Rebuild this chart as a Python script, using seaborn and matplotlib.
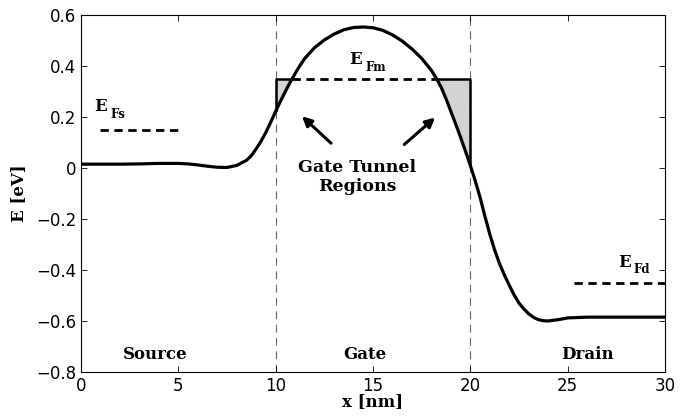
import numpy as np
import pandas as pd
import seaborn as sns
import matplotlib.pyplot as plt

# conduction band profile along the channel
x_nm = [0, 1, 2, 3, 4, 5, 5.5, 6, 6.5, 7, 7.5, 8, 8.5, 8.75, 9, 9.25, 9.5,
        9.75, 10, 10.25, 10.5, 10.75, 11, 11.25, 11.5, 12, 12.5, 13, 13.5,
        14, 14.5, 15, 15.5, 16, 16.5, 17, 17.5, 18, 18.25, 18.5, 18.75, 19,
        19.25, 19.5, 19.75, 20, 20.25, 20.5, 20.75, 21, 21.25, 21.5, 21.75,
        22, 22.25, 22.5, 22.75, 23, 23.25, 23.5, 23.75, 24, 24.5, 25, 26, 27,
        28, 29, 30]
energy_ev = [0.015, 0.015, 0.015, 0.016, 0.018, 0.018, 0.016, 0.012, 0.007,
             0.003, 0.002, 0.01, 0.03, 0.048, 0.075, 0.105, 0.14, 0.18, 0.222,
             0.262, 0.3, 0.337, 0.37, 0.402, 0.43, 0.472, 0.502, 0.525, 0.542,
             0.551, 0.553, 0.55, 0.54, 0.522, 0.498, 0.467, 0.43, 0.383, 0.352,
             0.317, 0.272, 0.222, 0.172, 0.12, 0.066, 0.01, -0.05, -0.115,
             -0.19, -0.26, -0.322, -0.375, -0.42, -0.46, -0.498, -0.53, -0.553,
             -0.572, -0.586, -0.595, -0.599, -0.6, -0.595, -0.588, -0.585,
             -0.585, -0.585, -0.585, -0.585]

# Fermi levels: source, gate metal, drain
ef_source_x = [1, 5]
ef_source = 0.15
ef_gate = 0.35
ef_drain_x = [25.3, 30]
ef_drain = -0.45

gate_edges = [10, 20]
regions = ["Source", "Gate", "Drain"]
region_x = [3.8, 14.6, 26.0]

serif = ["DejaVu Serif"]

sns.set_style("ticks")
plt.rcParams["font.family"] = ["DejaVu Sans"]
plt.rcParams["xtick.direction"] = "in"
plt.rcParams["ytick.direction"] = "in"
plt.rcParams["xtick.top"] = True
plt.rcParams["ytick.right"] = True
plt.rcParams["text.color"] = "black"
plt.rcParams["axes.labelcolor"] = "black"
plt.rcParams["xtick.color"] = "black"
plt.rcParams["ytick.color"] = "black"
plt.rcParams["axes.edgecolor"] = "black"

df = pd.DataFrame({"x": x_nm, "E": energy_ev})

fig = plt.figure(figsize=(6.8, 4.17), dpi=100)
ax = fig.add_axes([0.119, 0.108, 0.859, 0.856])

# shaded tunnel regions between the band and the gate Fermi level
xs = np.array(x_nm)
es = np.array(energy_ev)
mask = (xs >= gate_edges[0]) & (xs <= gate_edges[1]) & (es <= ef_gate)
ax.fill_between(xs, es, ef_gate, where=mask, interpolate=True,
                color="#d4d4d4", linewidth=0, zorder=1)

# solid outline of the shaded triangles
rise = (xs >= 10) & (xs <= 12)
left_cross = np.interp(ef_gate, es[rise], xs[rise])
desc = (xs >= 17) & (xs <= 20)
right_cross = np.interp(ef_gate, es[desc][::-1], xs[desc][::-1])
e_at_10 = np.interp(10, xs, es)
e_at_20 = np.interp(20, xs, es)
ax.plot([10, 10, left_cross], [e_at_10, ef_gate, ef_gate], color="black", lw=1.8, zorder=3)
ax.plot([right_cross, 20, 20], [ef_gate, ef_gate, e_at_20], color="black", lw=1.8, zorder=3)

for xe in gate_edges:
    ax.axvline(xe, color="#666666", lw=0.8, ls=(0, (7, 5)), zorder=0)

sns.lineplot(data=df, x="x", y="E", color="black", linewidth=2.3, ax=ax, zorder=4)

dash = (0, (3, 2))
ax.plot(ef_source_x, [ef_source] * 2, color="black", lw=2.0, ls=dash)
ax.plot([left_cross, right_cross], [ef_gate] * 2, color="black", lw=2.0, ls=dash)
ax.plot(ef_drain_x, [ef_drain] * 2, color="black", lw=2.0, ls=dash)

lab = dict(family=serif, fontweight="bold", fontsize=12)
sub = dict(family=serif, fontweight="bold", fontsize=8.5)
ax.text(0.7, 0.24, "E", **lab, va="center")
ax.text(1.5, 0.21, "Fs", **sub, va="center")
ax.text(13.8, 0.425, "E", **lab, va="center")
ax.text(14.6, 0.395, "Fm", **sub, va="center")
ax.text(27.6, -0.37, "E", **lab, va="center")
ax.text(28.4, -0.4, "Fd", **sub, va="center")

ax.text(14.2, -0.035, "Gate Tunnel\nRegions", ha="center", va="center",
        linespacing=1.1, family=serif, fontweight="bold", fontsize=12.5)
ax.annotate("", xy=(11.25, 0.21), xytext=(12.95, 0.09),
            arrowprops=dict(arrowstyle="-|>", color="black", lw=2.2, mutation_scale=14))
ax.annotate("", xy=(18.3, 0.205), xytext=(16.5, 0.085),
            arrowprops=dict(arrowstyle="-|>", color="black", lw=2.2, mutation_scale=14))

for name, rx in zip(regions, region_x):
    ax.text(rx, -0.73, name, ha="center", va="center", **lab)

ax.set_xlim(0, 30)
ax.set_ylim(-0.8, 0.6)
ax.set_xticks([0, 5, 10, 15, 20, 25, 30])
ax.set_yticks([-0.8, -0.6, -0.4, -0.2, 0, 0.2, 0.4, 0.6])
ax.set_yticklabels(["\u22120.8", "\u22120.6", "\u22120.4", "\u22120.2", "0", "0.2", "0.4", "0.6"])
ax.tick_params(labelsize=12, length=4, width=0.6)
ax.set_xlabel("x [nm]", family=serif, fontweight="bold", fontsize=12, labelpad=-1)
ax.set_ylabel("E [eV]", family=serif, fontweight="bold", fontsize=12, labelpad=6)
for sp in ax.spines.values():
    sp.set_linewidth(0.8)
    sp.set_visible(True)

fig.savefig("out.png", dpi=100)
